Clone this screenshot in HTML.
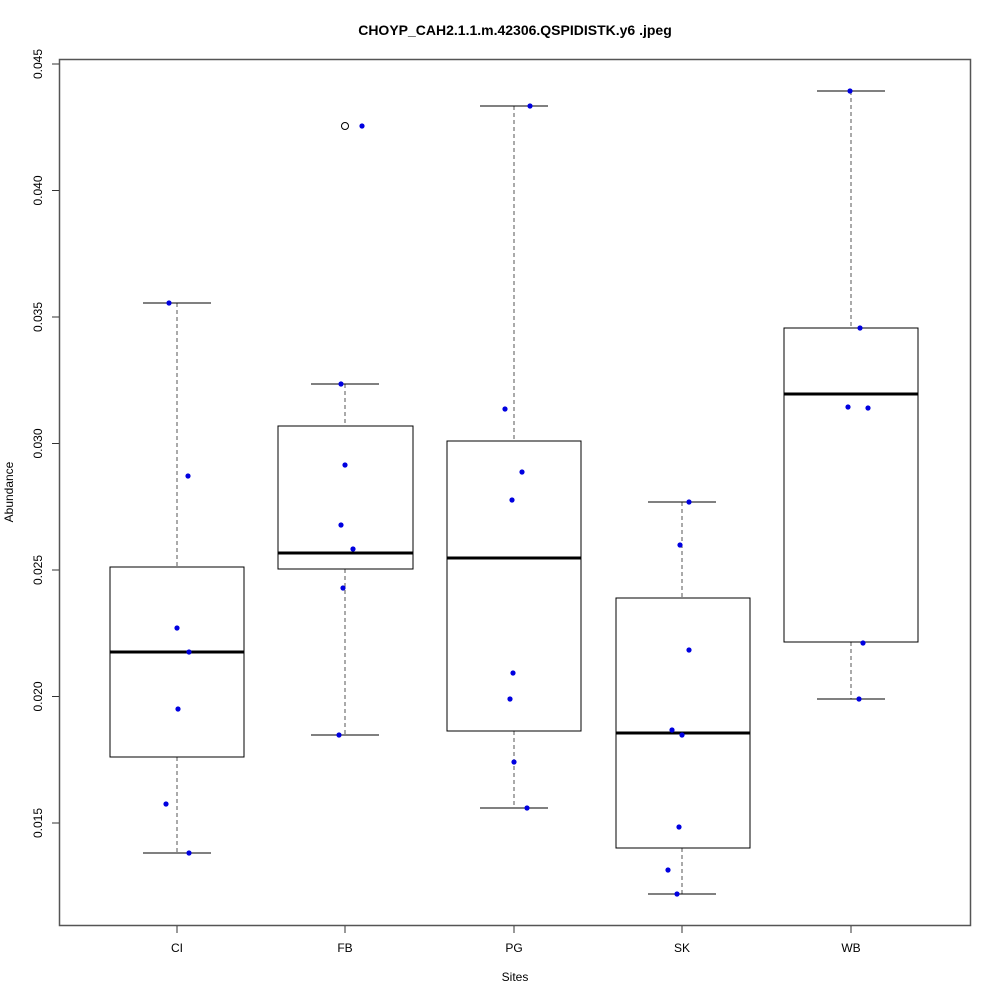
<!DOCTYPE html>
<html><head><style>body{margin:0;background:#fff}</style></head><body>
<svg width="1000" height="1000" xmlns="http://www.w3.org/2000/svg" font-family="Liberation Sans, sans-serif">
<rect width="1000" height="1000" fill="#fff"/>
<text x="515" y="35" text-anchor="middle" font-weight="bold" font-size="14">CHOYP_CAH2.1.1.m.42306.QSPIDISTK.y6 .jpeg</text>
<rect x="59.5" y="59.5" width="911" height="866" fill="none" stroke="#555" stroke-width="1.5"/>
<g stroke="#333" stroke-width="1">
<line x1="52" y1="64" x2="59" y2="64"/><line x1="52" y1="190.5" x2="59" y2="190.5"/><line x1="52" y1="317" x2="59" y2="317"/><line x1="52" y1="443.5" x2="59" y2="443.5"/><line x1="52" y1="570" x2="59" y2="570"/><line x1="52" y1="696.5" x2="59" y2="696.5"/><line x1="52" y1="823" x2="59" y2="823"/>
<line x1="177" y1="926" x2="177" y2="933"/><line x1="345" y1="926" x2="345" y2="933"/><line x1="514" y1="926" x2="514" y2="933"/><line x1="682" y1="926" x2="682" y2="933"/><line x1="851" y1="926" x2="851" y2="933"/>
</g>
<g font-size="12" text-anchor="middle">
<text transform="translate(42,64) rotate(-90)">0.045</text>
<text transform="translate(42,190.5) rotate(-90)">0.040</text>
<text transform="translate(42,317) rotate(-90)">0.035</text>
<text transform="translate(42,443.5) rotate(-90)">0.030</text>
<text transform="translate(42,570) rotate(-90)">0.025</text>
<text transform="translate(42,696.5) rotate(-90)">0.020</text>
<text transform="translate(42,823) rotate(-90)">0.015</text>
<text x="177" y="952">CI</text><text x="345" y="952">FB</text><text x="514" y="952">PG</text><text x="682" y="952">SK</text><text x="851" y="952">WB</text>
<text x="515" y="981">Sites</text>
<text transform="translate(13,492) rotate(-90)">Abundance</text>
</g>
<g stroke="#000" fill="none" stroke-width="1">
<!-- CI -->
<line x1="177" y1="303" x2="177" y2="567" stroke="#555" stroke-dasharray="4,3"/>
<line x1="177" y1="757" x2="177" y2="853" stroke="#555" stroke-dasharray="4,3"/>
<line x1="143" y1="303" x2="211" y2="303"/><line x1="143" y1="853" x2="211" y2="853"/>
<rect x="110" y="567" width="134" height="190"/>
<line x1="110" y1="652" x2="244" y2="652" stroke-width="3"/>
<!-- FB -->
<line x1="345" y1="384" x2="345" y2="426" stroke="#555" stroke-dasharray="4,3"/>
<line x1="345" y1="569" x2="345" y2="735" stroke="#555" stroke-dasharray="4,3"/>
<line x1="311" y1="384" x2="379" y2="384"/><line x1="311" y1="735" x2="379" y2="735"/>
<rect x="278" y="426" width="135" height="143"/>
<line x1="278" y1="553" x2="413" y2="553" stroke-width="3"/>
<circle cx="345" cy="126" r="3.5"/>
<!-- PG -->
<line x1="514" y1="106" x2="514" y2="441" stroke="#555" stroke-dasharray="4,3"/>
<line x1="514" y1="731" x2="514" y2="808" stroke="#555" stroke-dasharray="4,3"/>
<line x1="480" y1="106" x2="548" y2="106"/><line x1="480" y1="808" x2="548" y2="808"/>
<rect x="447" y="441" width="134" height="290"/>
<line x1="447" y1="558" x2="581" y2="558" stroke-width="3"/>
<!-- SK -->
<line x1="682" y1="502" x2="682" y2="598" stroke="#555" stroke-dasharray="4,3"/>
<line x1="682" y1="848" x2="682" y2="894" stroke="#555" stroke-dasharray="4,3"/>
<line x1="648" y1="502" x2="716" y2="502"/><line x1="648" y1="894" x2="716" y2="894"/>
<rect x="616" y="598" width="134" height="250"/>
<line x1="616" y1="733" x2="750" y2="733" stroke-width="3"/>
<!-- WB -->
<line x1="851" y1="91" x2="851" y2="328" stroke="#555" stroke-dasharray="4,3"/>
<line x1="851" y1="642" x2="851" y2="699" stroke="#555" stroke-dasharray="4,3"/>
<line x1="817" y1="91" x2="885" y2="91"/><line x1="817" y1="699" x2="885" y2="699"/>
<rect x="784" y="328" width="134" height="314"/>
<line x1="784" y1="394" x2="918" y2="394" stroke-width="3"/>
</g>
<g fill="#0000e0">
<circle cx="169" cy="303" r="2.6"/><circle cx="188" cy="476" r="2.6"/><circle cx="177" cy="628" r="2.6"/><circle cx="189" cy="652" r="2.6"/><circle cx="178" cy="709" r="2.6"/><circle cx="166" cy="804" r="2.6"/><circle cx="189" cy="853" r="2.6"/>
<circle cx="341" cy="384" r="2.6"/><circle cx="362" cy="126" r="2.6"/><circle cx="345" cy="465" r="2.6"/><circle cx="341" cy="525" r="2.6"/><circle cx="353" cy="549" r="2.6"/><circle cx="343" cy="588" r="2.6"/><circle cx="339" cy="735" r="2.6"/>
<circle cx="530" cy="106" r="2.6"/><circle cx="505" cy="409" r="2.6"/><circle cx="522" cy="472" r="2.6"/><circle cx="512" cy="500" r="2.6"/><circle cx="513" cy="673" r="2.6"/><circle cx="510" cy="699" r="2.6"/><circle cx="514" cy="762" r="2.6"/><circle cx="527" cy="808" r="2.6"/>
<circle cx="689" cy="502" r="2.6"/><circle cx="680" cy="545" r="2.6"/><circle cx="689" cy="650" r="2.6"/><circle cx="672" cy="730" r="2.6"/><circle cx="682" cy="735" r="2.6"/><circle cx="679" cy="827" r="2.6"/><circle cx="668" cy="870" r="2.6"/><circle cx="677" cy="894" r="2.6"/>
<circle cx="850" cy="91" r="2.6"/><circle cx="860" cy="328" r="2.6"/><circle cx="848" cy="407" r="2.6"/><circle cx="868" cy="408" r="2.6"/><circle cx="863" cy="643" r="2.6"/><circle cx="859" cy="699" r="2.6"/>
</g>
</svg>
</body></html>
